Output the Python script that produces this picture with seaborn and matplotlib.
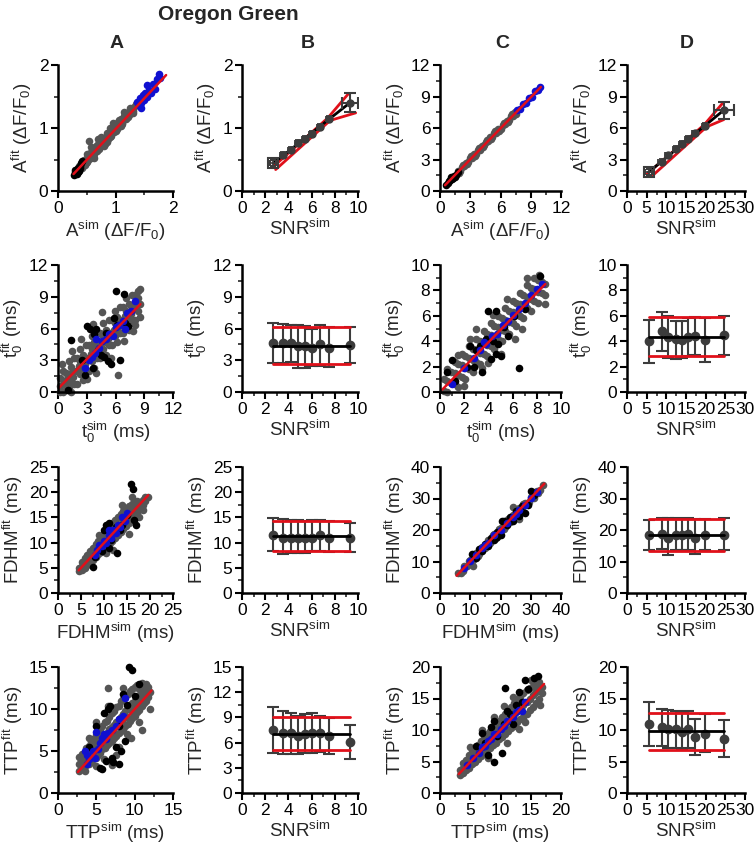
import numpy as np
import seaborn as sns
import matplotlib.pyplot as plt
from matplotlib.ticker import MultipleLocator, AutoMinorLocator

# ---- scatter data (sim, fit) ----
# row 1: amplitude
a1_gray = [(0.32, 0.30), (0.35, 0.36), (0.38, 0.35), (0.40, 0.42), (0.43, 0.40), (0.45, 0.47), (0.48, 0.45),
           (0.50, 0.52), (0.52, 0.49), (0.55, 0.58), (0.57, 0.53), (0.60, 0.62), (0.62, 0.58), (0.65, 0.68),
           (0.67, 0.63), (0.70, 0.74), (0.72, 0.68), (0.75, 0.80), (0.77, 0.73), (0.80, 0.84), (0.82, 0.78),
           (0.85, 0.88), (0.87, 0.83), (0.90, 0.94), (0.92, 0.88), (0.95, 0.98), (0.97, 0.93), (1.00, 1.04),
           (1.02, 0.98), (1.05, 1.09), (1.07, 1.03), (1.10, 1.14), (1.12, 1.08), (1.15, 1.19), (1.18, 1.14),
           (1.20, 1.24), (1.23, 1.20), (1.26, 1.29), (1.30, 1.27), (1.33, 1.33), (0.58, 0.70), (0.75, 0.86),
           (0.62, 0.53), (0.90, 1.00), (0.50, 0.59), (0.85, 0.77), (0.54, 0.80), (0.47, 0.41), (1.10, 1.03),
           (0.36, 0.40), (0.41, 0.37), (0.46, 0.50), (0.51, 0.46), (0.56, 0.61), (0.61, 0.56), (0.66, 0.71),
           (0.71, 0.66), (0.76, 0.83), (0.81, 0.75), (0.86, 0.92), (0.91, 0.85), (0.96, 1.02), (1.01, 0.95),
           (1.06, 1.12), (1.11, 1.06), (1.16, 1.22), (1.21, 1.17), (1.26, 1.32), (1.31, 1.24), (1.35, 1.38),
           (0.70, 0.82), (0.95, 1.08), (1.15, 1.25), (0.80, 0.72)]
a1_black = [(0.28, 0.26), (0.30, 0.30), (0.31, 0.28), (0.33, 0.33), (0.34, 0.30), (0.35, 0.37), (0.36, 0.34),
            (0.38, 0.40), (0.39, 0.36), (0.40, 0.44), (0.42, 0.47), (0.30, 0.34), (0.33, 0.27), (0.37, 0.31)]
a1_blue = [(1.38, 1.42), (1.40, 1.36), (1.42, 1.48), (1.45, 1.40), (1.47, 1.52), (1.50, 1.45), (1.52, 1.56),
           (1.55, 1.50), (1.58, 1.60), (1.62, 1.55), (1.65, 1.70), (1.68, 1.62), (1.72, 1.78), (1.75, 1.85),
           (1.78, 1.80), (1.45, 1.31), (1.55, 1.68)]
a1_fit = [(0.27, 0.27), (1.88, 1.84)]

c1_gray = [(1.8, 1.9), (2.0, 1.95), (2.2, 2.3), (2.4, 2.35), (2.6, 2.7), (2.8, 2.75), (3.0, 3.1), (3.2, 3.15),
           (3.4, 3.5), (3.6, 3.55), (3.8, 3.9), (4.0, 3.95), (4.2, 4.3), (4.4, 4.35), (4.6, 4.7), (4.8, 4.75),
           (5.0, 5.1), (5.2, 5.15), (5.4, 5.5), (5.6, 5.55), (5.8, 5.9), (6.0, 5.95), (6.2, 6.3), (6.4, 6.35),
           (6.6, 6.7), (6.8, 6.75), (7.0, 7.1), (7.2, 7.15), (7.4, 7.5), (1.9, 1.7), (2.3, 2.5), (2.7, 2.55),
           (3.1, 3.3), (3.5, 3.35), (3.9, 4.1), (4.3, 4.15), (4.7, 4.9), (5.1, 4.95), (5.5, 5.7), (5.9, 5.75),
           (6.3, 6.5), (6.7, 6.55), (7.1, 7.3), (7.5, 7.35)]
c1_black = [(0.6, 0.6), (0.8, 0.75), (1.0, 1.05), (1.2, 1.1), (1.4, 1.45), (1.6, 1.5), (1.8, 1.85),
            (1.1, 1.3), (1.5, 1.35), (0.9, 0.95), (1.3, 1.25)]
c1_blue = [(7.6, 7.7), (7.9, 7.8), (8.2, 8.3), (8.5, 8.4), (8.8, 8.9), (9.1, 9.0), (9.4, 9.5), (9.7, 9.6),
           (9.9, 9.9)]
c1_fit = [(0.5, 0.55), (10.0, 9.9)]

# row 2: onset time t0
a2_gray = [(0.2, 0.0), (0.2, 0.6), (0.2, 1.3), (0.5, 0.0), (0.5, 0.8), (0.5, 2.0), (0.8, 0.2), (0.8, 1.1),
           (0.8, 1.8), (1.1, 0.5), (1.1, 1.7), (1.1, 2.9), (1.4, 0.0), (1.4, 1.2), (1.4, 2.4), (1.7, 0.8),
           (1.7, 2.0), (1.7, 3.2), (2.0, 0.8), (2.0, 2.0), (2.0, 3.2), (2.3, 1.7), (2.3, 2.9), (2.3, 4.1),
           (2.6, 1.1), (2.6, 2.3), (2.6, 3.5), (2.9, 2.0), (2.9, 3.2), (2.9, 4.4), (3.2, 2.0), (3.2, 3.2),
           (3.2, 4.4), (3.5, 2.9), (3.5, 4.1), (3.5, 5.3), (3.8, 2.3), (3.8, 3.5), (3.8, 4.7), (4.1, 3.2),
           (4.1, 4.4), (4.1, 5.6), (4.4, 3.2), (4.4, 4.4), (4.4, 5.6), (4.7, 4.1), (4.7, 5.3), (4.7, 6.5),
           (5.0, 3.5), (5.0, 4.7), (5.0, 5.9), (5.3, 4.4), (5.3, 5.6), (5.3, 6.8), (5.6, 4.4), (5.6, 5.6),
           (5.6, 6.8), (5.9, 5.3), (5.9, 6.5), (5.9, 7.7), (6.2, 4.7), (6.2, 5.9), (6.2, 7.1), (6.5, 5.6),
           (6.5, 6.8), (6.5, 8.0), (6.8, 5.6), (6.8, 6.8), (6.8, 8.0), (7.1, 6.5), (7.1, 7.7), (7.1, 8.9),
           (7.4, 5.9), (7.4, 7.1), (7.4, 8.3), (7.7, 6.8), (7.7, 8.0), (7.7, 9.2), (8.0, 6.8), (8.0, 8.0),
           (8.0, 9.2), (8.3, 7.7), (8.3, 8.9), (8.3, 9.5), (8.6, 7.1), (8.6, 8.3), (8.6, 9.7),
           (1.0, 1.0), (1.6, 1.4), (2.2, 2.5), (2.8, 2.6), (3.4, 3.6), (4.0, 3.8), (4.6, 4.7), (5.2, 5.0),
           (5.8, 5.9), (6.4, 6.2), (7.0, 7.2), (7.6, 7.4), (8.2, 8.3),
           (6.3, 1.6), (0.4, 2.6), (3.0, 1.2), (5.5, 3.2), (7.8, 5.8), (1.5, 3.9), (4.0, 1.8), (2.4, 5.0),
           (4.6, 7.6), (6.9, 4.8), (3.6, 6.4), (8.0, 6.3)]
a2_black = [(1.4, 4.9), (2.5, 3.0), (3.0, 6.2), (3.3, 6.0), (3.8, 5.5), (4.0, 6.0), (4.5, 3.5), (4.8, 3.3),
            (5.0, 5.6), (5.2, 2.9), (5.5, 2.6), (6.0, 9.5), (6.5, 3.0), (6.9, 9.3), (7.0, 6.5), (7.3, 6.2),
            (5.8, 7.0), (3.6, 2.3), (4.2, 4.0), (6.2, 6.3), (2.8, 1.6), (1.0, 0.2)]
a2_blue = [(2.8, 2.3), (3.2, 3.0), (3.5, 3.3), (3.9, 3.7), (4.3, 4.2), (4.6, 4.8), (5.0, 5.0), (5.3, 5.5),
           (5.7, 5.3), (6.0, 6.1), (6.4, 6.3), (6.8, 6.7), (7.2, 7.5), (7.6, 7.7), (8.0, 8.6), (7.0, 6.0),
           (4.0, 5.0)]
a2_fit = [(0.0, 0.3), (8.6, 8.3)]

c2_gray = [(0.3, 0.1), (0.3, 1.0), (0.6, 0.0), (0.6, 0.9), (0.6, 1.8), (0.9, 0.7), (0.9, 1.6), (1.2, 0.6),
           (1.2, 1.5), (1.2, 2.4), (1.5, 0.4), (1.5, 1.3), (1.5, 2.2), (1.8, 1.2), (1.8, 2.1), (1.8, 3.0),
           (2.1, 1.0), (2.1, 1.9), (2.1, 2.8), (2.4, 1.8), (2.4, 2.7), (2.4, 3.6), (2.7, 1.6), (2.7, 2.5),
           (2.7, 3.4), (3.0, 2.4), (3.0, 3.3), (3.0, 4.2), (3.3, 2.2), (3.3, 3.1), (3.3, 4.0), (3.6, 3.0),
           (3.6, 3.9), (3.6, 4.8), (3.9, 2.8), (3.9, 3.7), (3.9, 4.6), (4.2, 3.6), (4.2, 4.5), (4.2, 5.4),
           (4.5, 3.4), (4.5, 4.3), (4.5, 5.2), (4.8, 4.2), (4.8, 5.1), (4.8, 6.0), (5.1, 4.0), (5.1, 4.9),
           (5.1, 5.8), (5.4, 4.8), (5.4, 5.7), (5.4, 6.6), (5.7, 4.6), (5.7, 5.5), (5.7, 6.4), (6.0, 5.4),
           (6.0, 6.3), (6.0, 7.2), (6.3, 5.2), (6.3, 6.1), (6.3, 7.0), (6.6, 6.0), (6.6, 6.9), (6.6, 7.8),
           (6.9, 5.8), (6.9, 6.7), (6.9, 7.6), (7.2, 6.6), (7.2, 7.5), (7.2, 8.4), (7.5, 6.4), (7.5, 7.3),
           (7.5, 8.2), (7.8, 7.2), (7.8, 8.1), (7.8, 9.0), (8.1, 7.0), (8.1, 7.9), (8.1, 8.8), (8.4, 7.8),
           (8.4, 8.7), (8.7, 7.6), (8.7, 8.5),
           (3.0, 5.0), (5.0, 3.0), (6.8, 5.0), (2.0, 0.5), (5.5, 7.3), (3.5, 1.9), (8.7, 6.9), (8.2, 9.2),
           (1.5, 2.9), (4.4, 6.1), (6.2, 4.2), (7.2, 9.0), (2.5, 4.2), (4.0, 2.3)]
c2_black = [(0.6, 1.6), (1.0, 2.5), (1.2, 0.9), (2.2, 2.0), (2.5, 3.6), (3.0, 3.3), (4.0, 6.4), (4.6, 6.4),
            (3.5, 1.6), (3.8, 4.2), (4.2, 2.6), (4.4, 4.0), (4.8, 3.8), (5.0, 2.8), (5.3, 5.1), (5.6, 4.4),
            (6.5, 1.9), (6.1, 6.0), (7.0, 6.5), (8.3, 9.1), (2.8, 2.0), (3.3, 3.6), (4.6, 3.0)]
c2_blue = [(1.0, 0.6), (2.0, 1.9), (2.8, 2.7), (3.3, 3.3), (3.8, 3.8), (4.3, 4.4), (4.7, 4.6), (5.2, 5.3),
           (5.6, 5.6), (6.0, 6.1), (6.5, 6.5), (7.0, 7.0), (7.5, 7.6), (8.0, 8.1), (8.4, 8.5), (3.6, 3.9)]
c2_fit = [(0.2, 0.2), (8.7, 8.5)]

# row 3: FDHM
a3_gray = [(4.6, 4.3), (4.6, 5.0), (5.2, 4.6), (5.2, 5.4), (5.2, 6.2), (5.8, 5.0), (5.8, 6.0), (5.8, 6.9),
           (6.4, 5.5), (6.4, 6.5), (6.4, 7.6), (7.0, 6.0), (7.0, 7.1), (7.0, 8.3), (7.6, 6.6), (7.6, 7.7),
           (7.6, 9.0), (8.2, 7.1), (8.2, 8.3), (8.2, 9.7), (8.8, 7.7), (8.8, 8.9), (8.8, 10.4), (9.4, 8.2),
           (9.4, 9.5), (9.4, 11.0), (10.0, 8.8), (10.0, 10.1), (10.0, 11.7), (10.6, 9.3), (10.6, 10.7),
           (10.6, 12.4), (11.2, 9.9), (11.2, 11.3), (11.2, 13.1), (11.8, 10.4), (11.8, 11.9), (11.8, 13.8),
           (12.4, 11.0), (12.4, 12.5), (12.4, 14.4), (13.0, 11.6), (13.0, 13.1), (13.0, 15.1), (13.6, 12.1),
           (13.6, 13.7), (13.6, 15.7), (14.2, 12.7), (14.2, 14.3), (14.2, 16.3), (14.8, 13.3), (14.8, 14.9),
           (14.8, 16.8), (15.4, 13.9), (15.4, 15.5), (15.4, 17.2), (16.0, 14.6), (16.0, 16.0), (16.0, 17.6),
           (16.6, 15.3), (16.6, 16.6), (16.6, 17.9), (17.2, 16.0), (17.2, 17.2), (17.2, 18.3), (17.8, 16.7),
           (17.8, 17.8), (18.4, 17.5), (18.4, 18.4), (19.0, 18.3), (19.0, 19.0), (19.6, 19.0),
           (4.9, 4.9), (6.1, 6.3), (7.3, 7.4), (8.5, 8.5), (9.7, 9.8), (10.9, 11.0), (12.1, 12.2), (13.3, 13.4),
           (14.5, 14.6), (15.7, 15.8), (16.9, 17.0), (18.1, 18.0),
           (16.0, 19.0), (15.5, 11.8), (12.0, 8.5), (10.5, 8.0), (17.5, 15.0), (9.0, 11.5), (18.5, 16.5),
           (14.0, 17.5)]
a3_black = [(7.6, 5.2), (8.0, 7.2), (9.5, 8.3), (10.0, 12.5), (10.5, 13.5), (11.0, 13.8), (11.5, 10.5),
            (12.5, 13.0), (12.8, 7.9), (13.5, 12.5), (14.0, 13.5), (15.9, 21.6), (16.3, 20.6), (16.5, 14.5),
            (17.0, 13.5), (15.0, 15.5), (11.0, 9.0)]
a3_blue = [(8.5, 8.5), (9.0, 9.5), (9.5, 9.3), (10.0, 10.4), (10.5, 10.0), (11.0, 11.5), (11.5, 11.0),
           (12.0, 12.5), (12.5, 12.0), (13.0, 13.5), (13.5, 13.0), (14.0, 15.0), (14.5, 14.3), (15.0, 15.8),
           (8.0, 7.5), (11.0, 12.5)]
a3_fit = [(4.5, 4.5), (19.6, 19.4)]

c3_gray = [(6, 6.2), (7, 6.5), (8, 8.5), (9, 8.6), (10, 10.5), (11, 10.4), (11, 8.5), (12, 12.6), (13, 12.5),
           (14, 14.5), (15, 14.3), (16, 16.8), (17, 16.5), (18, 18.6), (19, 18.4), (20, 20.7), (21, 20.3),
           (22, 22.8), (23, 22.5), (24, 24.7), (25, 24.3), (26, 26.9), (27, 26.4), (28, 28.6), (29, 28.3),
           (30, 30.5), (31, 30.2), (32, 32.3), (33, 32.8), (34, 34.3), (24, 27.3), (26, 23.5),
           (7.5, 7.0), (9.5, 10.2), (12.5, 11.8), (13.5, 14.3), (15.5, 16.0), (16.5, 15.8), (17.5, 18.3),
           (18.5, 17.6), (19.5, 20.4), (21.5, 21.0), (22.5, 23.5), (23.5, 23.0), (25.5, 26.0), (26.5, 25.5),
           (27.5, 28.2), (29.5, 29.0), (31.5, 32.0), (32.5, 31.6)]
c3_black = [(10.5, 12.3), (12, 11.2), (13, 14.0), (14, 13.2), (15, 15.5), (16, 14.8), (17, 17.6), (18, 16.8),
            (19, 19.5), (20, 18.5), (20.5, 22.8), (22, 21.5), (23, 24.0), (24, 22.7), (25, 26.0), (26, 24.3),
            (27, 27.5), (28, 25.5), (29, 28.0), (30, 32.5), (31, 31.0), (19, 17.8), (21, 23.0)]
c3_blue = [(8, 8), (10, 10.2), (12, 12), (14, 14.2), (16, 16), (18, 18.3), (20, 20), (22, 22.2), (24, 24),
           (26, 26.3), (28, 28), (30, 30.3), (32, 32), (15, 15.3), (25, 25.2)]
c3_fit = [(5.5, 5.5), (34.5, 34.7)]

# row 4: TTP
a4_gray = [(2.8, 2.6), (2.8, 3.4), (2.8, 4.3), (3.1, 2.9), (3.1, 3.8), (3.1, 4.7), (3.4, 3.0), (3.4, 3.7),
           (3.4, 4.6), (3.7, 3.3), (3.7, 4.2), (3.7, 5.3), (4.0, 3.4), (4.0, 4.5), (4.0, 5.6), (4.3, 3.7),
           (4.3, 4.8), (4.3, 6.1), (4.6, 4.1), (4.6, 5.4), (4.6, 6.4), (4.9, 4.2), (4.9, 5.6), (4.9, 6.9),
           (5.2, 4.5), (5.2, 5.9), (5.2, 7.1), (5.5, 4.8), (5.5, 6.3), (5.5, 7.6), (5.8, 5.2), (5.8, 6.5),
           (5.8, 8.0), (6.1, 5.3), (6.1, 6.9), (6.1, 8.4), (6.4, 5.7), (6.4, 7.2), (6.4, 8.6), (6.7, 5.9),
           (6.7, 7.6), (6.7, 9.1), (7.0, 6.2), (7.0, 7.8), (7.0, 9.5), (7.3, 6.6), (7.3, 8.1), (7.3, 9.8),
           (7.6, 6.8), (7.6, 8.5), (7.6, 10.2), (7.9, 7.1), (7.9, 8.8), (7.9, 10.4), (8.2, 7.4), (8.2, 9.1),
           (8.2, 10.9), (8.5, 7.6), (8.5, 9.4), (8.5, 11.2), (8.8, 8.0), (8.8, 9.8), (8.8, 11.4), (9.1, 8.2),
           (9.1, 10.1), (9.1, 11.8), (9.4, 8.6), (9.4, 10.3), (9.4, 12.1), (9.7, 8.9), (9.7, 10.7),
           (9.7, 12.4), (10.0, 9.2), (10.0, 11.0), (10.0, 12.6), (10.3, 9.6), (10.3, 11.2), (10.3, 12.9),
           (10.6, 9.9), (10.6, 11.5), (10.6, 12.4), (10.9, 10.3), (10.9, 11.8), (10.9, 13.1), (11.2, 10.7),
           (11.2, 12.0), (11.2, 12.8), (11.5, 11.0), (11.5, 12.3), (11.5, 13.0), (11.8, 11.4), (11.8, 12.6),
           (12.0, 12.0),
           (3.0, 3.9), (3.6, 4.0), (4.2, 4.2), (4.8, 5.0), (5.4, 5.5), (6.0, 6.1), (6.6, 6.7), (7.2, 7.3),
           (7.8, 8.0), (8.4, 8.6), (9.0, 9.1), (9.6, 9.8), (10.2, 10.4), (10.8, 11.0),
           (6.5, 12.5), (11.0, 7.5), (9.5, 6.5), (8.0, 5.5), (7.5, 4.5), (6.0, 4.0), (5.0, 3.2), (10.5, 8.5),
           (9.0, 7.0), (7.0, 3.3), (4.0, 6.5), (5.0, 8.5), (6.5, 10.3), (3.5, 2.6), (12.0, 10.0), (8.5, 12.5)]
a4_black = [(4.0, 5.5), (5.0, 8.0), (5.5, 3.0), (6.0, 9.5), (6.2, 3.8), (6.5, 10.0), (6.8, 10.3), (7.0, 4.2),
            (7.2, 3.7), (7.5, 5.5), (8.0, 8.0), (8.2, 5.0), (8.5, 11.8), (8.8, 6.2), (9.3, 15.0), (9.7, 14.7),
            (10.5, 13.0), (9.0, 10.5), (10.0, 11.5), (8.0, 3.5), (5.8, 2.8)]
a4_blue = [(3.5, 5.0), (3.8, 4.5), (4.0, 4.0), (4.5, 5.0), (4.8, 4.2), (5.0, 7.3), (5.2, 5.2), (5.5, 6.0),
           (5.8, 6.5), (6.0, 7.0), (6.5, 7.2), (7.0, 7.5), (7.5, 8.0), (8.0, 8.8), (8.5, 9.2), (8.8, 11.3),
           (3.8, 3.5), (6.2, 6.4)]
a4_fit = [(2.6, 2.5), (12.2, 12.2)]

c4_gray = [(3.3, 2.9), (3.3, 3.6), (3.8, 3.2), (3.8, 4.0), (3.8, 4.8), (4.3, 3.6), (4.3, 4.5), (4.3, 5.3),
           (4.8, 4.0), (4.8, 5.0), (4.8, 6.0), (5.3, 4.6), (5.3, 5.5), (5.3, 6.5), (5.8, 5.0), (5.8, 6.0),
           (5.8, 7.1), (6.3, 5.4), (6.3, 6.5), (6.3, 7.6), (6.8, 5.9), (6.8, 7.0), (6.8, 8.3), (7.3, 6.3),
           (7.3, 7.5), (7.3, 8.8), (7.8, 6.8), (7.8, 8.0), (7.8, 9.3), (8.3, 7.1), (8.3, 8.5), (8.3, 9.9),
           (8.8, 7.6), (8.8, 9.0), (8.8, 10.4), (9.3, 8.0), (9.3, 9.5), (9.3, 11.0), (9.8, 8.5), (9.8, 10.0),
           (9.8, 11.5), (10.3, 8.9), (10.3, 10.5), (10.3, 12.1), (10.8, 9.4), (10.8, 11.0), (10.8, 12.6),
           (11.3, 9.8), (11.3, 11.5), (11.3, 13.2), (11.8, 10.3), (11.8, 12.0), (11.8, 13.7), (12.3, 10.7),
           (12.3, 12.5), (12.3, 14.3), (12.8, 11.2), (12.8, 13.0), (12.8, 14.8), (13.3, 11.7), (13.3, 13.5),
           (13.3, 15.3), (13.8, 12.1), (13.8, 14.0), (13.8, 15.8), (14.3, 12.6), (14.3, 14.5), (14.3, 16.3),
           (14.8, 13.2), (14.8, 15.0), (14.8, 16.6), (15.3, 13.7), (15.3, 15.5), (15.3, 17.0), (15.8, 14.3),
           (15.8, 16.0), (15.8, 17.3), (16.3, 15.0), (16.3, 16.5), (16.3, 17.6), (16.8, 15.8), (16.8, 16.9),
           (7.0, 10.0), (9.0, 12.0), (11.0, 8.0), (13.0, 10.2), (10.5, 13.8), (15.0, 18.0), (12.0, 15.3),
           (8.0, 5.5), (5.0, 7.3), (14.0, 11.3), (16.5, 14.0)]
c4_black = [(6.0, 7.5), (7.0, 9.5), (7.5, 8.0), (8.0, 6.0), (9.0, 5.0), (9.5, 9.0), (10.2, 6.3), (10.5, 11.0),
            (10.8, 16.7), (11.5, 12.5), (12.0, 11.0), (12.5, 14.0), (13.5, 14.5), (13.0, 16.0), (14.5, 16.5),
            (14.0, 18.0), (15.5, 18.2), (16.2, 18.5), (9.0, 11.5), (11.0, 13.0), (8.5, 10.5)]
c4_blue = [(4.5, 4.5), (5.5, 5.5), (6.5, 6.3), (7.0, 7.3), (7.5, 7.5), (8.0, 8.2), (8.5, 8.5), (9.0, 9.3),
           (9.5, 9.4), (10.0, 10.2), (10.5, 10.6), (11.0, 11.4), (12.0, 12.1), (12.5, 12.8), (13.0, 13.2),
           (13.5, 13.0), (14.0, 14.5)]
c4_fit = [(3.1, 3.0), (17.2, 17.3)]

# ---- SNR panels: SNR, mean, upper and lower error bar ends ----
snr_b = [2.7, 3.5, 4.2, 4.8, 5.4, 6.0, 6.7, 7.5, 9.3]
snr_d = [5.5, 8.8, 10.5, 12.5, 14.0, 15.5, 17.2, 19.8, 24.6]

# row 1 (amplitude grows with SNR)
b1_y = [0.44, 0.57, 0.65, 0.76, 0.82, 0.90, 1.02, 1.14, 1.40]
b1_yerr = [0.05, 0.05, 0.05, 0.05, 0.05, 0.05, 0.05, 0.05, 0.15]
b1_xerr = [0.25, 0.25, 0.25, 0.25, 0.25, 0.25, 0.25, 0.25, 0.70]
b1_mean = [(2.7, 0.44), (9.3, 1.40)]
b1_hi = [(2.6, 0.37), (7.4, 1.16), (9.2, 1.55)]
b1_lo = [(2.9, 0.34), (7.6, 1.12), (9.8, 1.24)]

d1_y = [1.8, 2.8, 3.4, 4.0, 4.5, 5.0, 5.5, 6.2, 7.7]
d1_yerr = [0.25, 0.25, 0.25, 0.25, 0.25, 0.25, 0.25, 0.25, 0.8]
d1_xerr = [0.8, 0.8, 0.8, 0.8, 0.8, 0.8, 0.8, 0.8, 2.5]
d1_mean = [(5.5, 1.8), (24.6, 7.7)]
d1_hi = [(5.0, 1.6), (19.6, 6.3), (24.4, 8.4)]
d1_lo = [(6.3, 1.4), (20.2, 6.1), (24.6, 6.8)]

b2_y = [4.6, 4.6, 4.6, 4.3, 4.3, 4.2, 4.5, 4.2, 4.4]
b2_hi = [6.5, 6.4, 6.3, 6.3, 6.2, 6.0, 6.3, 6.1, 6.1]
b2_lo = [2.7, 2.7, 2.8, 2.3, 2.3, 2.5, 2.5, 2.4, 2.7]
b2_lines = [4.35, 6.15, 2.65]

d2_y = [4.0, 4.8, 4.35, 4.2, 4.1, 4.3, 4.4, 4.1, 4.5]
d2_hi = [5.7, 6.3, 6.0, 5.6, 5.6, 5.8, 5.9, 5.8, 6.0]
d2_lo = [2.3, 3.2, 2.7, 2.6, 2.7, 2.8, 2.9, 2.4, 2.9]
d2_lines = [4.35, 5.9, 2.8]

b3_y = [11.6, 11.0, 11.0, 11.0, 11.0, 11.0, 11.5, 11.0, 11.0]
b3_hi = [14.9, 14.6, 14.5, 14.4, 14.3, 14.4, 14.5, 14.3, 13.9]
b3_lo = [8.3, 7.8, 7.9, 7.9, 8.0, 8.3, 8.4, 8.2, 8.2]
b3_lines = [11.3, 14.3, 8.4]

d3_y = [18.5, 18.6, 17.5, 18.5, 18.5, 18.8, 17.5, 18.5, 18.5]
d3_hi = [23.3, 23.8, 23.8, 23.8, 23.5, 23.7, 23.5, 23.5, 23.8]
d3_lo = [13.8, 14.0, 12.2, 13.5, 13.5, 13.5, 12.5, 13.5, 13.5]
d3_lines = [18.4, 23.5, 13.4]

b4_y = [7.5, 7.2, 7.2, 6.8, 7.0, 7.2, 7.1, 6.8, 6.1]
b4_hi = [10.2, 9.8, 9.5, 9.2, 9.4, 9.5, 9.2, 8.9, 8.1]
b4_lo = [4.8, 4.7, 4.7, 4.6, 4.8, 4.8, 4.9, 4.6, 4.1]
b4_lines = [7.0, 9.0, 5.1]

d4_y = [11.0, 10.5, 10.2, 10.2, 9.7, 10.1, 8.9, 9.4, 8.6]
d4_hi = [14.5, 13.4, 13.2, 13.0, 12.8, 13.0, 11.8, 12.5, 11.6]
d4_lo = [7.5, 7.5, 7.2, 7.2, 7.0, 7.2, 6.0, 6.5, 5.7]
d4_lines = [9.8, 12.7, 6.9]

# ---- style ----
sns.set_style("ticks")
plt.rcParams['font.family'] = ['Liberation Sans', 'DejaVu Sans']
plt.rcParams['mathtext.fontset'] = 'custom'
plt.rcParams['mathtext.rm'] = 'Liberation Sans'
plt.rcParams['mathtext.it'] = 'Liberation Sans:italic'
plt.rcParams['mathtext.bf'] = 'Liberation Sans:bold'
plt.rcParams['mathtext.default'] = 'regular'

GRAY = '#555555'
BAR = '#3c3c3c'
BLUE = '#1010d0'
RED = '#e0101a'

W, H = 756, 843
fig = plt.figure(figsize=(W / 100, H / 100), dpi=100)

cols_px = [(58, 173), (242, 358), (440, 561), (627, 745)]
rows_px = [(65, 191), (265, 392), (467, 593), (667, 793)]


def make_ax(r, c):
    x0, x1 = cols_px[c]
    y0, y1 = rows_px[r]
    return fig.add_axes([x0 / W, 1 - y1 / H, (x1 - x0) / W, (y1 - y0) / H])


def style(ax, xmax, xstep, ymax, ystep, xlabel, ylabel):
    ax.set_xlim(0, xmax)
    ax.set_ylim(0, ymax)
    ax.xaxis.set_major_locator(MultipleLocator(xstep))
    ax.yaxis.set_major_locator(MultipleLocator(ystep))
    ax.xaxis.set_minor_locator(AutoMinorLocator(2))
    ax.yaxis.set_minor_locator(AutoMinorLocator(2))
    sns.despine(ax=ax)
    for s in ['left', 'bottom']:
        ax.spines[s].set_linewidth(1.8)
        ax.spines[s].set_color('black')
    ax.tick_params(which='major', direction='out', length=5, width=1.5, labelsize=12.5, pad=2, colors='black')
    ax.tick_params(which='minor', direction='out', length=3, width=1.2)
    ax.set_xlabel(xlabel, fontsize=13.5, labelpad=2)
    ax.set_ylabel(ylabel, fontsize=13.5, labelpad=3)


def scatter_panel(ax, gray, black, blue, fit):
    for pts, col in [(gray, GRAY), (black, 'black'), (blue, BLUE)]:
        xs, ys = zip(*pts)
        sns.scatterplot(x=list(xs), y=list(ys), color=col, s=30, linewidth=0, ax=ax, clip_on=False)
    fx, fy = zip(*fit)
    sns.lineplot(x=list(fx), y=list(fy), color=RED, lw=1.8, ax=ax)


def line(ax, pts, col):
    xs, ys = zip(*pts)
    sns.lineplot(x=list(xs), y=list(ys), color=col, lw=2, ax=ax, zorder=4)


def snr_panel(ax, x, y, hi, lo, lines):
    y = np.array(y)
    yerr = [y - np.array(lo), np.array(hi) - y]
    ax.errorbar(x, y, yerr=yerr, fmt='o', color=BAR, ms=6, capsize=4, elinewidth=1.5, capthick=1.5, zorder=3)
    m, top, bot = lines
    line(ax, [(x[0], m), (x[-1], m)], 'black')
    line(ax, [(x[0], top), (x[-1], top)], RED)
    line(ax, [(x[0], bot), (x[-1], bot)], RED)


def snr_amp_panel(ax, x, y, xerr, yerr, mean, hi, lo):
    line(ax, hi, RED)
    line(ax, lo, RED)
    line(ax, mean, 'black')
    ax.errorbar(x[1:-1], y[1:-1], xerr=xerr[1:-1], yerr=yerr[1:-1], fmt='o', color=BAR, ms=5, capsize=2,
                elinewidth=1.3, capthick=1.3, zorder=5)
    ax.errorbar(x[-1:], y[-1:], xerr=xerr[-1:], yerr=yerr[-1:], fmt='o', color=BAR, ms=5, capsize=4,
                elinewidth=1.5, capthick=1.5, zorder=5)
    ax.errorbar(x[:1], y[:1], xerr=xerr[:1], yerr=yerr[:1], fmt='s', color=BAR, mfc='none', mec=BAR,
                mew=1.5, ms=7, capsize=2, elinewidth=1.2, zorder=5)


amp_sim = 'A$^{sim}$ (ΔF/F$_0$)'
amp_fit = 'A$^{fit}$ (ΔF/F$_0$)'
snr = 'SNR$^{sim}$'

# row 1
ax = make_ax(0, 0); scatter_panel(ax, a1_gray, a1_black, a1_blue, a1_fit); style(ax, 2, 1, 2, 1, amp_sim, amp_fit)
ax = make_ax(0, 1); snr_amp_panel(ax, snr_b, b1_y, b1_xerr, b1_yerr, b1_mean, b1_hi, b1_lo); style(ax, 10, 2, 2, 1, snr, amp_fit)
ax = make_ax(0, 2); scatter_panel(ax, c1_gray, c1_black, c1_blue, c1_fit); style(ax, 12, 3, 12, 3, amp_sim, amp_fit)
ax = make_ax(0, 3); snr_amp_panel(ax, snr_d, d1_y, d1_xerr, d1_yerr, d1_mean, d1_hi, d1_lo); style(ax, 30, 5, 12, 3, snr, amp_fit)

# row 2
t_sim = 't$_0^{sim}$ (ms)'
t_fit = 't$_0^{fit}$ (ms)'
ax = make_ax(1, 0); scatter_panel(ax, a2_gray, a2_black, a2_blue, a2_fit); style(ax, 12, 3, 12, 3, t_sim, t_fit)
ax = make_ax(1, 1); snr_panel(ax, snr_b, b2_y, b2_hi, b2_lo, b2_lines); style(ax, 10, 2, 12, 3, snr, t_fit)
ax = make_ax(1, 2); scatter_panel(ax, c2_gray, c2_black, c2_blue, c2_fit); style(ax, 10, 2, 10, 2, t_sim, t_fit)
ax = make_ax(1, 3); snr_panel(ax, snr_d, d2_y, d2_hi, d2_lo, d2_lines); style(ax, 30, 5, 10, 2, snr, t_fit)

# row 3
f_sim = 'FDHM$^{sim}$ (ms)'
f_fit = 'FDHM$^{fit}$ (ms)'
ax = make_ax(2, 0); scatter_panel(ax, a3_gray, a3_black, a3_blue, a3_fit); style(ax, 25, 5, 25, 5, f_sim, f_fit)
ax = make_ax(2, 1); snr_panel(ax, snr_b, b3_y, b3_hi, b3_lo, b3_lines); style(ax, 10, 2, 25, 5, snr, f_fit)
ax = make_ax(2, 2); scatter_panel(ax, c3_gray, c3_black, c3_blue, c3_fit); style(ax, 40, 10, 40, 10, f_sim, f_fit)
ax = make_ax(2, 3); snr_panel(ax, snr_d, d3_y, d3_hi, d3_lo, d3_lines); style(ax, 30, 5, 40, 10, snr, f_fit)

# row 4
p_sim = 'TTP$^{sim}$ (ms)'
p_fit = 'TTP$^{fit}$ (ms)'
ax = make_ax(3, 0); scatter_panel(ax, a4_gray, a4_black, a4_blue, a4_fit); style(ax, 15, 5, 15, 5, p_sim, p_fit)
ax = make_ax(3, 1); snr_panel(ax, snr_b, b4_y, b4_hi, b4_lo, b4_lines); style(ax, 10, 2, 15, 3, snr, p_fit)
ax = make_ax(3, 2); scatter_panel(ax, c4_gray, c4_black, c4_blue, c4_fit); style(ax, 20, 5, 20, 5, p_sim, p_fit)
ax = make_ax(3, 3); snr_panel(ax, snr_d, d4_y, d4_hi, d4_lo, d4_lines); style(ax, 30, 5, 20, 5, snr, p_fit)

fig.text(228 / W, 1 - 14 / H, 'Oregon Green', ha='center', va='center', fontsize=15, fontweight='bold')
for letter, xc in zip('ABCD', [117, 308, 502, 687]):
    fig.text(xc / W, 1 - 44 / H, letter, ha='center', va='center', fontsize=14, fontweight='bold')

fig.savefig('out.png', dpi=100)
